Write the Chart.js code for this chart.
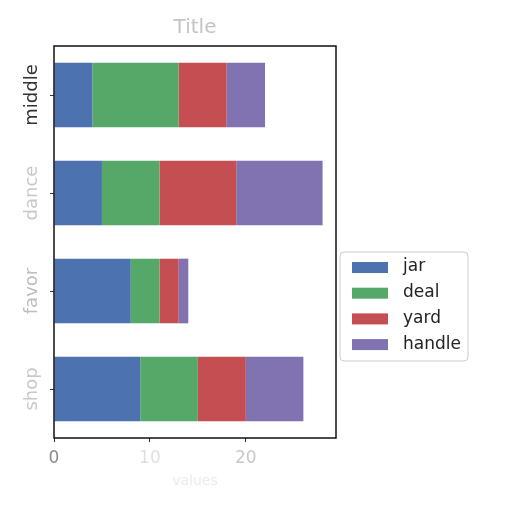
<!DOCTYPE html>
<html>
<head>
<meta charset="utf-8">
<script src="https://cdn.jsdelivr.net/npm/chart.js@4/dist/chart.umd.min.js"></script>
<style>
  html, body { margin: 0; padding: 0; background: #fff; }
  #wrap { width: 512px; height: 512px; }
</style>
</head>
<body>
<div id="wrap"><canvas id="barChart"></canvas></div>
<script>
// data, top to bottom on the chart
var categories = ["middle", "dance", "favor", "shop"];
var jar    = [4, 5, 8, 9];
var deal   = [9, 6, 3, 6];
var yard   = [5, 8, 2, 5];
var handle = [4, 9, 1, 6];
var xTicks = [0, 10, 20];

var seriesNames = ["jar", "deal", "yard", "handle"];
var seriesColors = ["#4C72B0", "#55A868", "#C44E52", "#8172B2"];

// faded look of the labels in the picture
var catColors = ["#333333", "#c8c8c8", "#bdbdbd", "#c8c8c8"];
var xTickColors = ["#8a8a8a", "#e0e0e0", "#c8c8c8"];

//-- frame round the plot + rotated category labels
var framePlugin = {
  id: "frame",
  afterDraw: function (chart) {
    var ctx = chart.ctx, a = chart.chartArea;
    ctx.save();
    ctx.strokeStyle = "#111";
    ctx.lineWidth = 1.5;
    ctx.strokeRect(a.left, a.top, a.right - a.left, a.bottom - a.top);

    var y = chart.scales.y;
    ctx.font = "18px 'DejaVu Sans'";
    ctx.textAlign = "center";
    ctx.textBaseline = "middle";
    categories.forEach(function (c, i) {
      var py = y.getPixelForValue(i);
      ctx.save();
      ctx.translate(32, py);
      ctx.rotate(-Math.PI / 2);
      ctx.fillStyle = catColors[i];
      ctx.fillText(c, 0, 0);
      ctx.restore();
    });
    ctx.restore();
  }
};

//-- legend outside the axes, right side
var legendPlugin = {
  id: "sideLegend",
  afterDraw: function (chart) {
    var ctx = chart.ctx;
    var x0 = 340, y0 = 252, w = 128, h = 109, r = 4;
    ctx.save();
    ctx.fillStyle = "#fff";
    ctx.strokeStyle = "#cccccc";
    ctx.lineWidth = 1;
    ctx.beginPath();
    ctx.roundRect(x0, y0, w, h, r);
    ctx.fill();
    ctx.stroke();
    ctx.font = "17px 'DejaVu Sans'";
    ctx.textBaseline = "middle";
    chart.data.datasets.forEach(function (ds, i) {
      var cy = 267 + i * 25.7;
      ctx.fillStyle = ds.backgroundColor;
      ctx.fillRect(352, cy - 5, 36, 11);
      ctx.fillStyle = "#222";
      ctx.fillText(ds.label, 403, cy);
    });
    ctx.restore();
  }
};

var allSeries = [jar, deal, yard, handle];
var datasets = allSeries.map(function (vals, i) {
  return {
    label: seriesNames[i],
    data: vals,
    backgroundColor: seriesColors[i],
    borderWidth: 0,
    categoryPercentage: 1.0,
    barPercentage: 0.66
  };
});

var ctx = document.getElementById("barChart").getContext("2d");
new Chart(ctx, {
  type: "bar",
  data: { labels: categories, datasets: datasets },
  options: {
    indexAxis: "y",
    responsive: true,
    maintainAspectRatio: false,
    animation: false,
    layout: { padding: { left: 0, right: 176, top: 0, bottom: 0 } },
    plugins: {
      legend: { display: false },
      tooltip: { enabled: false },
      title: {
        display: true,
        text: "Title",
        fullSize: false,
        color: "#c4c4c4",
        font: { family: "DejaVu Sans", size: 20, weight: "normal" },
        padding: { top: 16, bottom: 6 }
      }
    },
    scales: {
      x: {
        stacked: true,
        min: 0,
        max: 29.4,
        afterBuildTicks: function (scale) {
          scale.ticks = xTicks.map(function (v) { return { value: v }; });
        },
        afterFit: function (scale) { scale.height = 74; },
        grid: { drawOnChartArea: false, tickLength: 4, tickColor: "#333", tickWidth: 1 },
        border: { display: false },
        ticks: {
          padding: 6,
          maxRotation: 0,
          font: { family: "DejaVu Sans", size: 17 },
          color: function (c) { return xTickColors[c.index] || "#ccc"; }
        },
        title: {
          display: true,
          text: "values",
          color: "#ebebeb",
          font: { family: "DejaVu Sans", size: 14 },
          padding: { top: 4, bottom: 22 }
        }
      },
      y: {
        stacked: true,
        afterFit: function (scale) { scale.width = 54; },
        grid: { offset: false, drawOnChartArea: false, tickLength: 4, tickColor: "#333", tickWidth: 1 },
        border: { display: false },
        ticks: { display: false }
      }
    }
  },
  plugins: [framePlugin, legendPlugin]
});
</script>
</body>
</html>
